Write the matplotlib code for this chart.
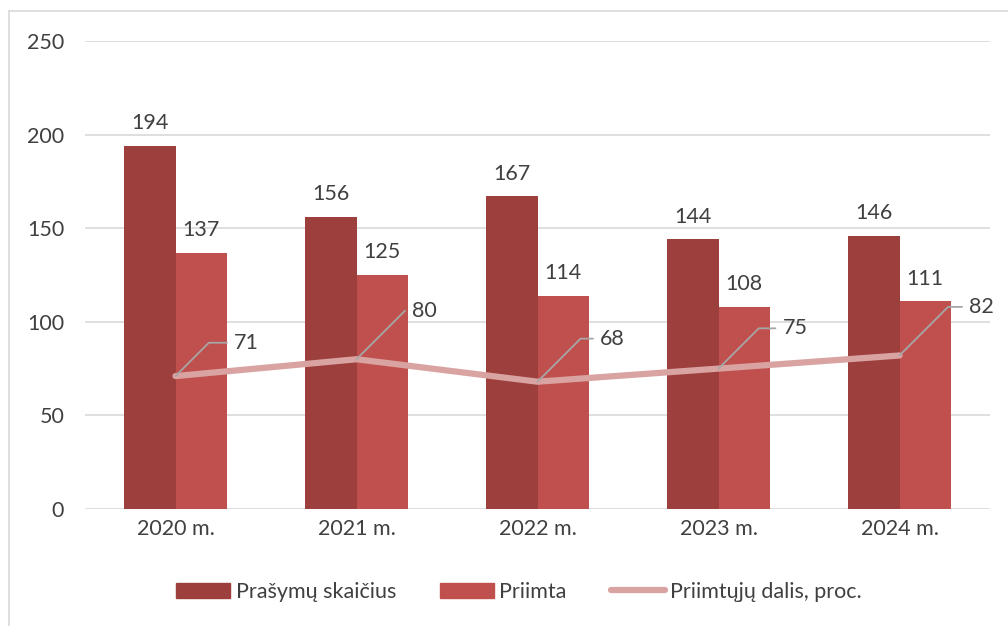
import matplotlib
matplotlib.use("Agg")
import matplotlib.pyplot as plt
from matplotlib.lines import Line2D
from matplotlib.patches import Patch
import numpy as np

categories = ["2020 m.", "2021 m.", "2022 m.", "2023 m.", "2024 m."]
prasymu = [194, 156, 167, 144, 146]
priimta = [137, 125, 114, 108, 111]
dalis = [71, 80, 68, 75, 82]
yticks = [0, 50, 100, 150, 200, 250]

# label offsets for line labels (points), style only
line_label_offsets = [(42, 24), (40, 35), (45, 31), (46, 29), (50, 35)]

plt.rcParams['font.family'] = ['Lato', 'DejaVu Sans']

FS = 15.5
c_dark = "#9C3F3D"
c_light = "#C0504D"
c_line = "#D9A3A2"
c_text = "#404040"
c_grid = "#D9D9D9"

fig = plt.figure(figsize=(10.08, 6.26), dpi=100)
ax = fig.add_axes([85/1008, 1-509/626, 905/1008, 468/626])

x = np.arange(len(categories))
w = 0.282
ax.bar(x - w/2, prasymu, w, color=c_dark, zorder=2)
ax.bar(x + w/2, priimta, w, color=c_light, zorder=2)
ax.plot(x, dalis, color=c_line, lw=4.5, solid_capstyle='round', zorder=3)

ax.set_xlim(-0.5, len(categories) - 0.5)
ax.set_ylim(0, 250)
ax.set_yticks(yticks)
ax.set_xticks(x)
ax.set_xticklabels(categories)
ax.tick_params(axis='both', length=0, labelsize=FS, labelcolor=c_text)
ax.tick_params(axis='y', pad=15)
ax.tick_params(axis='x', pad=7)
ax.grid(axis='y', color=c_grid, lw=1.2, zorder=0)
ax.set_axisbelow(True)
for s in ax.spines.values():
    s.set_visible(False)

for xi, v in zip(x - w/2, prasymu):
    ax.annotate(str(v), (xi, v), xytext=(0, 9), textcoords='offset points',
                ha='center', va='bottom', fontsize=FS, color=c_text)
for xi, v in zip(x + w/2, priimta):
    ax.annotate(str(v), (xi, v), xytext=(0, 9), textcoords='offset points',
                ha='center', va='bottom', fontsize=FS, color=c_text)

for xi, v, (dx, dy) in zip(x, dalis, line_label_offsets):
    ax.annotate(str(v), (xi, v), xytext=(dx, dy), textcoords='offset points',
                ha='left', va='center', fontsize=FS, color=c_text, zorder=5,
                arrowprops=dict(arrowstyle='-', color='#A6A6A6', lw=1.3,
                                connectionstyle='angle,angleA=0,angleB=45,rad=0',
                                shrinkA=3, shrinkB=0, relpos=(0, 0.5)))

handles = [Patch(color=c_dark), Patch(color=c_light),
           Line2D([0], [0], color=c_line, lw=4.5, solid_capstyle='round')]
labels = ["Prašymų skaičius", "Priimta", "Priimtųjų dalis, proc."]
fig.legend(handles, labels, loc='center', bbox_to_anchor=(0.515, 1-592/626), ncol=3,
           frameon=False, fontsize=FS, handlelength=2.5, handleheight=0.75,
           handletextpad=0.25, columnspacing=2.05, labelcolor=c_text)

# outer chart border (left and top visible)
fig.add_artist(Line2D([9/1008, 9/1008], [0, 1-11/626], color="#D9D9D9", lw=1.2,
                      transform=fig.transFigure))
fig.add_artist(Line2D([9/1008, 1], [1-11/626, 1-11/626], color="#D9D9D9", lw=1.2,
                      transform=fig.transFigure))

fig.savefig("out.png", dpi=100)
